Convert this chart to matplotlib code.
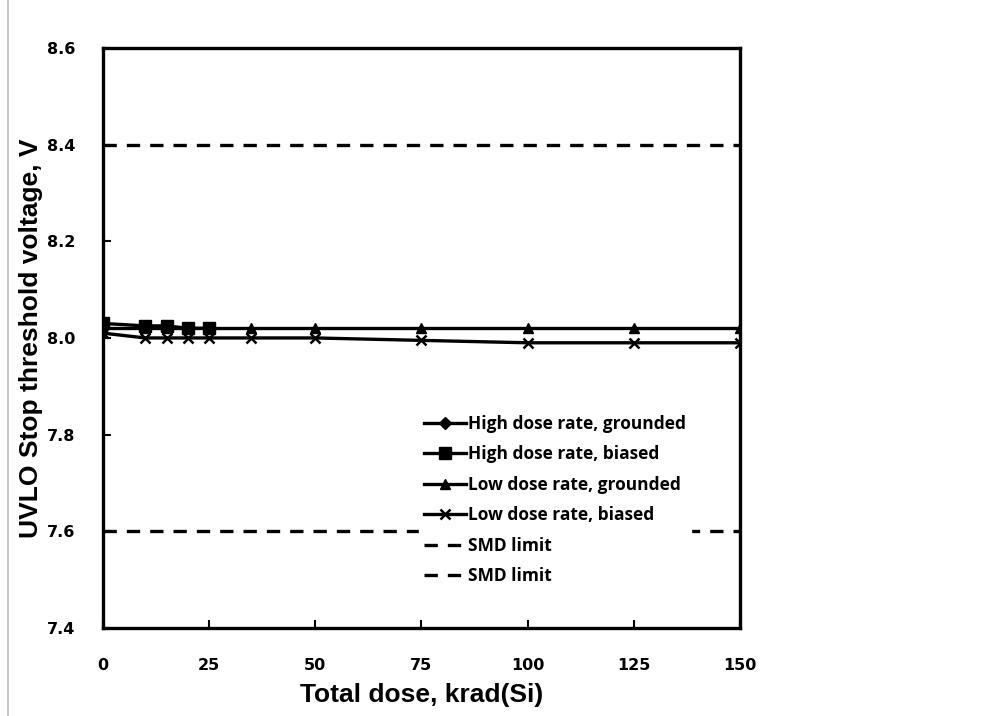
import matplotlib
matplotlib.use("Agg")
from matplotlib import pyplot as plt
from matplotlib.lines import Line2D
from matplotlib.ticker import MultipleLocator, FormatStrFormatter

# data
hdr_gnd_x = [0]
hdr_gnd_y = [8.02]
hdr_bias_x = [0, 10, 15, 20, 25]
hdr_bias_y = [8.03, 8.025, 8.025, 8.02, 8.02]
ldr_gnd_x = [0, 10, 15, 20, 25, 35, 50, 75, 100, 125, 150]
ldr_gnd_y = [8.02, 8.02, 8.02, 8.02, 8.02, 8.02, 8.02, 8.02, 8.02, 8.02, 8.02]
ldr_bias_x = [0, 10, 15, 20, 25, 35, 50, 75, 100, 125, 150]
ldr_bias_y = [8.01, 8.0, 8.0, 8.0, 8.0, 8.0, 8.0, 7.995, 7.99, 7.99, 7.99]
limit_x = [0, 150]
upper_limit = [8.4, 8.4]
lower_limit = [7.6, 7.6]

label_font = ["Liberation Sans Narrow", "Liberation Sans"]

fig = plt.figure(figsize = (10.08, 7.16), dpi = 100)
ax = fig.add_axes([0.102, 0.123, 0.632, 0.810])

lw = 2.4
ax.plot(hdr_gnd_x, hdr_gnd_y, color = "black", lw = lw, marker = "D", ms = 6, label = "High dose rate, grounded")
ax.plot(hdr_bias_x, hdr_bias_y, color = "black", lw = lw, marker = "s", ms = 8, label = "High dose rate, biased")
ax.plot(ldr_gnd_x, ldr_gnd_y, color = "black", lw = lw, marker = "^", ms = 7, label = "Low dose rate, grounded")
ax.plot(ldr_bias_x, ldr_bias_y, color = "black", lw = lw, marker = "x", ms = 7, mew = 1.8, label = "Low dose rate, biased")
ax.plot(limit_x, upper_limit, color = "black", lw = lw, ls = (0, (4, 3)), label = "SMD limit")
ax.plot(limit_x, lower_limit, color = "black", lw = lw, ls = (0, (4, 3)), label = "SMD limit")

ax.set_xlim(0, 150)
ax.set_ylim(7.4, 8.6)
ax.xaxis.set_major_locator(MultipleLocator(25))
ax.yaxis.set_major_locator(MultipleLocator(0.2))
ax.yaxis.set_major_formatter(FormatStrFormatter("%.1f"))
for s in ax.spines.values():
    s.set_linewidth(2.4)
ax.tick_params(direction = "in", length = 6, width = 1.5, labelsize = 11.5)
for t in ax.get_xticklabels() + ax.get_yticklabels():
    t.set_fontweight("bold")
ax.tick_params(axis = "y", pad = 20)
ax.tick_params(axis = "x", pad = 22)

ax.set_xlabel("Total dose, krad(Si)", fontsize = 19, fontweight = "bold", family = label_font)
ax.set_ylabel("UVLO Stop threshold voltage, V", fontsize = 19, fontweight = "bold", family = label_font, va = "center")
ax.xaxis.set_label_coords(0.5, -0.095)
ax.yaxis.set_label_coords(-0.112, 0.5)

leg = ax.legend(loc = "upper left", bbox_to_anchor = (0.407, 0.44), bbox_transform = fig.transFigure,
                frameon = True, fancybox = False, edgecolor = "white", framealpha = 1,
                prop = {"family": "Open Sans", "weight": "bold", "size": 12.5},
                handlelength = 2.4, handletextpad = 0.1, labelspacing = 0.72, borderpad = 0.3)

# thin grey page rule on the left
fig.add_artist(Line2D([0.008, 0.008], [0, 1], color = "#bbbbbb", lw = 1.2, transform = fig.transFigure))

plt.savefig("out.png", dpi = 100)
